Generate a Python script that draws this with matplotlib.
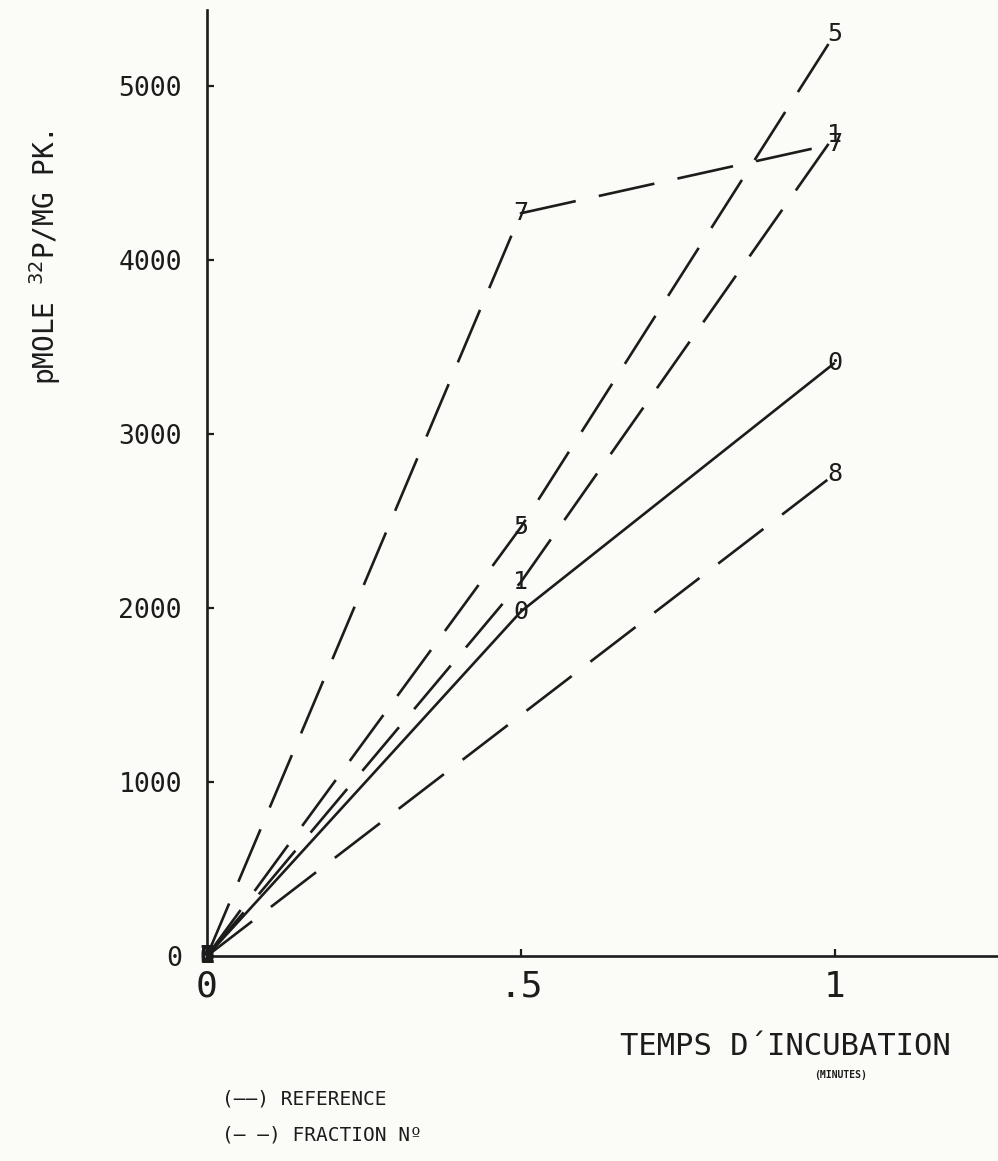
import numpy as np
import matplotlib
matplotlib.use("Agg")
import matplotlib.pyplot as plt

plt.rcParams['font.family'] = ['DejaVu Sans Mono', 'DejaVu Sans']
plt.rcParams['lines.scale_dashes'] = False

# temps d'incubation (minutes)
t_ref = [0, 0.5, 1]
t_8 = [0, 1]

# pmole 32P / mg PK
ref_0 = [0, 1980, 3410]
frac_1 = [0, 2150, 4720]
frac_5 = [0, 2465, 5300]
frac_7 = [0, 4270, 4670]
frac_8 = [0, 2770]

series = [
    ("0", t_ref, ref_0, "-"),
    ("1", t_ref, frac_1, "--"),
    ("5", t_ref, frac_5, "--"),
    ("7", t_ref, frac_7, "--"),
    ("8", t_8, frac_8, "--"),
]

ink = "#1c1c1c"
paper = "#fbfbf7"

fig = plt.figure(figsize=(9.98, 11.61), dpi=100, facecolor=paper)
ax = fig.add_axes([0.2074, 0.1766, 0.7926, 0.815])
ax.set_facecolor(paper)

for name, xs, ys, style in series:
    if style == "-":
        ax.plot(xs, ys, color=ink, linewidth=1.9, solid_capstyle="butt")
    else:
        ax.plot(xs, ys, color=ink, linewidth=1.9, dashes=(41, 17), dash_capstyle="butt")
    for x, y in zip(xs, ys):
        ax.text(x, y, name, fontsize=18, color=ink, ha="center", va="center",
                fontweight="bold" if x == 0 else "normal")

ax.set_xlim(0, 1.26)
ax.set_ylim(0, 5440)

for side in ["top", "right"]:
    ax.spines[side].set_visible(False)
for side in ["left", "bottom"]:
    ax.spines[side].set_linewidth(1.9)
    ax.spines[side].set_color(ink)

ax.set_xticks([0, 0.5, 1])
ax.set_xticklabels(["0", ".5", "1"], fontsize=26, color=ink)
ax.set_yticks([0, 1000, 2000, 3000, 4000, 5000])
ax.set_yticklabels(["0", "1000", "2000", "3000", "4000", "5000"], fontsize=19, color=ink)
ax.tick_params(axis="y", direction="in", length=5, width=1.6, pad=18, colors=ink)
ax.tick_params(axis="x", direction="in", length=5, width=1.6, pad=10, colors=ink)

fig.text(0.045, 0.778, "pMOLE $^{32}$P/MG PK.", rotation=90, fontsize=20,
         color=ink, ha="center", va="center")
fig.text(0.787, 0.099, "TEMPS D\u00B4INCUBATION", fontsize=22, color=ink,
         ha="center", va="center")
fig.text(0.842, 0.074, "(MINUTES)", fontsize=7, color=ink, fontweight="bold",
         ha="center", va="center")
fig.text(0.222, 0.053, "(\u2014\u2014) REFERENCE", fontsize=14, color=ink,
         ha="left", va="center")
fig.text(0.222, 0.022, "(\u2014 \u2014) FRACTION N\u00BA", fontsize=14, color=ink,
         ha="left", va="center")

fig.savefig("out.png", dpi=100, facecolor=paper)
